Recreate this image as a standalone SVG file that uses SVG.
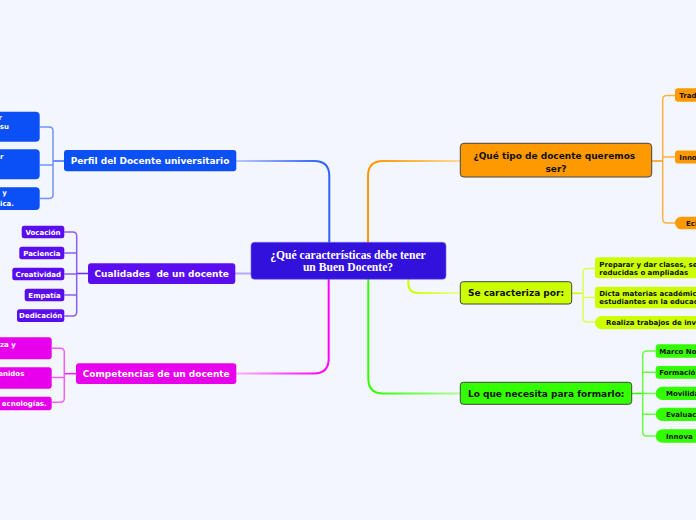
<svg xmlns="http://www.w3.org/2000/svg" width="696" height="520" viewBox="0 0 696 520">
<defs>
<style>
.w9{font-family:"DejaVu Sans",Verdana,sans-serif;font-weight:bold;font-size:9px;fill:#fff}
.b9{font-family:"DejaVu Sans",Verdana,sans-serif;font-weight:bold;font-size:9px;fill:#111}
.w7{font-family:"DejaVu Sans",Verdana,sans-serif;font-weight:bold;font-size:7px;fill:#fff}
.b7{font-family:"DejaVu Sans",Verdana,sans-serif;font-weight:bold;font-size:7px;fill:#111}
.ser{font-family:"Liberation Serif","Times New Roman",serif;font-weight:bold;font-size:11.6px;fill:#fff}
.c{text-anchor:middle}
.e{text-anchor:end}
.main{fill:none;stroke-width:2}
.br{fill:none;stroke-width:1.5}
.blue{fill:#0a50f4}
.purp{fill:#5a0ef0}
.mag{fill:#e800ec}
.ora{fill:#ff9900}
.yel{fill:#ccff00}
.grn{fill:#33ff00}
.ol{stroke:#444;stroke-width:1}
</style>
<linearGradient id="gBlue" gradientUnits="userSpaceOnUse" x1="236" y1="0" x2="322" y2="0"><stop offset="0" stop-color="#b9c9ff"/><stop offset="1" stop-color="#2f63ff"/></linearGradient>
<linearGradient id="gOra" gradientUnits="userSpaceOnUse" x1="375" y1="0" x2="460" y2="0"><stop offset="0" stop-color="#ff9900"/><stop offset="1" stop-color="#ffd89a"/></linearGradient>
<linearGradient id="gMag" gradientUnits="userSpaceOnUse" x1="236" y1="0" x2="322" y2="0"><stop offset="0" stop-color="#ffb0ff"/><stop offset="1" stop-color="#ff00ff"/></linearGradient>
<linearGradient id="gGrn" gradientUnits="userSpaceOnUse" x1="376" y1="0" x2="460" y2="0"><stop offset="0" stop-color="#33ff00"/><stop offset="1" stop-color="#b4ff9a"/></linearGradient>
<linearGradient id="gYel" gradientUnits="userSpaceOnUse" x1="412" y1="0" x2="460" y2="0"><stop offset="0" stop-color="#ccff00"/><stop offset="1" stop-color="#ecffa0"/></linearGradient>
</defs>
<rect x="0" y="0" width="696" height="520" fill="#f3f6fd"/>

<g id="connectors">
<path class="main" stroke="url(#gBlue)" d="M329.3 244V176Q329.3 161 314.3 161H236"/>
<path class="main" stroke="url(#gOra)" d="M368 244V176Q368 161 383 161H460"/>
<path class="main" stroke="#b8a8ff" d="M252 273.5H235"/>
<path class="main" stroke="url(#gMag)" d="M328.7 278V358.5Q328.7 373.5 313.7 373.5H236"/>
<path class="main" stroke="url(#gGrn)" d="M368.3 278V378.5Q368.3 393.5 383.3 393.5H460"/>
<path class="main" stroke="url(#gYel)" d="M408.3 278V283Q408.3 293 418.3 293H460"/>

<path class="br" stroke="#3f6dff" d="M64 161H53"/>
<path class="br" stroke="#6f94ff" d="M39.7 127H49Q53 127 53 131V194.5Q53 198.5 49 198.5H39.7M39.7 165H53"/>

<path class="br" stroke="#6a2cff" d="M88 273.5H76.7"/>
<path class="br" stroke="#8a5cff" d="M64.3 232H72.7Q76.7 232 76.7 236V312Q76.7 316 72.7 316H64.3M64.3 253H76.7M64.3 274H76.7M64.3 295H76.7"/>

<path class="br" stroke="#f020f5" d="M76 373.7H64.3"/>
<path class="br" stroke="#f760f8" d="M51.7 348.3H60.3Q64.3 348.3 64.3 352.3V398.3Q64.3 402.3 60.3 402.3H51.7M51.7 377.5H64.3"/>

<path class="br" stroke="#ff9900" d="M651.7 161H662.7"/>
<path class="br" stroke="#ffb040" d="M675 95.5H666.7Q662.7 95.5 662.7 99.5V219Q662.7 223 666.7 223H675M675 157H662.7"/>

<path class="br" stroke="#ccff00" d="M571.7 293.3H583"/>
<path class="br" stroke="#daff50" d="M595 268.5H587Q583 268.5 583 272.5V318Q583 322 587 322H595M595 297.5H583"/>

<path class="br" stroke="#33ff00" d="M631.7 393.5H642.7"/>
<path class="br" stroke="#66ff40" d="M655.7 351H646.7Q642.7 351 642.7 355V432Q642.7 436 646.7 436H655.7M655.7 372.3H642.7M655.7 393.5H642.7M655.7 414.3H642.7"/>
</g>

<g id="center">
<rect x="251" y="242.3" width="195" height="37" rx="3.5" fill="#3311dd" stroke="#7a66f0" stroke-width="0.6"/>
<text class="ser c" x="348" y="259.3">¿Qué características debe tener</text>
<text class="ser c" x="348" y="270.9">un Buen Docente?</text>
</g>

<g id="perfil">
<rect class="blue" x="64" y="150" width="172.3" height="21.3" rx="3"/>
<text class="w9 c" x="150" y="164">Perfil del Docente universitario</text>
</g>
<g id="perfil-1">
<rect class="blue" x="-20" y="111.7" width="59.7" height="30" rx="4"/>
<text class="w7 e" x="2" y="119.5">r</text>
<text class="w7 e" x="9" y="129">su</text>
</g>
<g id="perfil-2">
<rect class="blue" x="-20" y="149.3" width="59.7" height="30" rx="4"/>
<text class="w7 e" x="3.5" y="159.3">r</text>
</g>
<g id="perfil-3">
<rect class="blue" x="-20" y="187.3" width="59.7" height="22.7" rx="4"/>
<text class="w7 e" x="6.8" y="194.5">y</text>
<text class="w7 e" x="14" y="205.5">ica.</text>
</g>

<g id="cualidades">
<rect class="purp" x="88" y="263.3" width="147.3" height="20.7" rx="3"/>
<text class="w9 c" x="161.7" y="277" xml:space="preserve">Cualidades  de un docente</text>
</g>
<g id="vocacion">
<rect class="purp" x="21.7" y="225.7" width="42.6" height="12.6" rx="2.5"/>
<text class="w7 c" x="43" y="234.5">Vocación</text>
</g>
<g id="paciencia">
<rect class="purp" x="19.3" y="246.7" width="45" height="12.6" rx="2.5"/>
<text class="w7 c" x="41.8" y="255.5">Paciencia</text>
</g>
<g id="creatividad">
<rect class="purp" x="12.3" y="267.7" width="52" height="12.6" rx="2.5"/>
<text class="w7 c" x="38.3" y="276.5">Creatividad</text>
</g>
<g id="empatia">
<rect class="purp" x="24.7" y="288.7" width="39.6" height="12.6" rx="2.5"/>
<text class="w7 c" x="44.5" y="297.5">Empatía</text>
</g>
<g id="dedicacion">
<rect class="purp" x="17" y="309.3" width="47.3" height="12.7" rx="2.5"/>
<text class="w7 c" x="40.7" y="318.2">Dedicación</text>
</g>

<g id="competencias">
<rect class="mag" x="76" y="363.3" width="160.3" height="20.7" rx="3"/>
<text class="w9 c" x="156.2" y="377">Competencias de un docente</text>
</g>
<g id="comp-1">
<rect class="mag" x="-20" y="337.3" width="71.7" height="22" rx="3"/>
<text class="w7 e" x="15.7" y="346.5">za y</text>
</g>
<g id="comp-2">
<rect class="mag" x="-20" y="367.3" width="71.7" height="21.4" rx="3"/>
<text class="w7 e" x="24.3" y="376">enidos</text>
</g>
<g id="comp-3">
<rect class="mag" x="-20" y="396.7" width="71.7" height="13.6" rx="3"/>
<text class="w7 e" x="46.7" y="406">ecnologías.</text>
</g>

<g id="tipo">
<rect class="ora ol" x="460.3" y="143.3" width="191.4" height="33.7" rx="3.5"/>
<text class="b9 c" x="554.3" y="159">¿Qué tipo de docente queremos</text>
<text class="b9 c" x="556" y="172">ser?</text>
</g>
<g id="trad">
<rect class="ora" x="675" y="88.3" width="40" height="13.4" rx="3"/>
<text class="b7" x="679.3" y="97.7">Trad</text>
</g>
<g id="inno">
<rect class="ora" x="675" y="150.5" width="40" height="13" rx="3"/>
<text class="b7" x="679.3" y="159.7">Inno</text>
</g>
<g id="ecl">
<rect class="ora" x="675" y="216.7" width="40" height="12.6" rx="6.3"/>
<text class="b7" x="686" y="225.8">Ecl</text>
</g>

<g id="caracteriza">
<rect class="yel ol" x="460.3" y="281.7" width="111.4" height="22.3" rx="3"/>
<text class="b9 c" x="516" y="296.3">Se caracteriza por:</text>
</g>
<g id="car-1">
<rect class="yel" x="595" y="257.3" width="120" height="21" rx="3"/>
<text class="b7" x="599.3" y="266.8">Preparar y dar clases, se</text>
<text class="b7" x="599.3" y="274.8">reducidas o ampliadas</text>
</g>
<g id="car-2">
<rect class="yel" x="595" y="286.7" width="120" height="21.6" rx="3"/>
<text class="b7" x="599.3" y="295.8">Dicta materias académic</text>
<text class="b7" x="599.3" y="304">estudiantes en la educac</text>
</g>
<g id="car-3">
<rect class="yel" x="595" y="316" width="120" height="13.3" rx="6.6"/>
<text class="b7" x="606" y="325.3">Realiza trabajos de inv</text>
</g>

<g id="necesita">
<rect class="grn ol" x="460.3" y="382.3" width="171.4" height="22" rx="3"/>
<text class="b9 c" x="546.2" y="396.7">Lo que necesita para formarlo:</text>
</g>
<g id="marco">
<rect class="grn" x="655.7" y="344.3" width="60" height="13.4" rx="3"/>
<text class="b7" x="659.3" y="353.6">Marco No</text>
</g>
<g id="formacion">
<rect class="grn" x="655.7" y="366" width="60" height="12.7" rx="3"/>
<text class="b7" x="659.3" y="375">Formació</text>
</g>
<g id="movilidad">
<rect class="grn" x="655.7" y="386.7" width="60" height="13.3" rx="6.6"/>
<text class="b7" x="666" y="396">Movilida</text>
</g>
<g id="evaluacion">
<rect class="grn" x="655.7" y="407.7" width="60" height="13.3" rx="6.6"/>
<text class="b7" x="666" y="417">Evaluac</text>
</g>
<g id="innovacion">
<rect class="grn" x="655.7" y="429.3" width="60" height="13.4" rx="6.6"/>
<text class="b7" x="666" y="438.7">Innova</text>
</g>
</svg>
